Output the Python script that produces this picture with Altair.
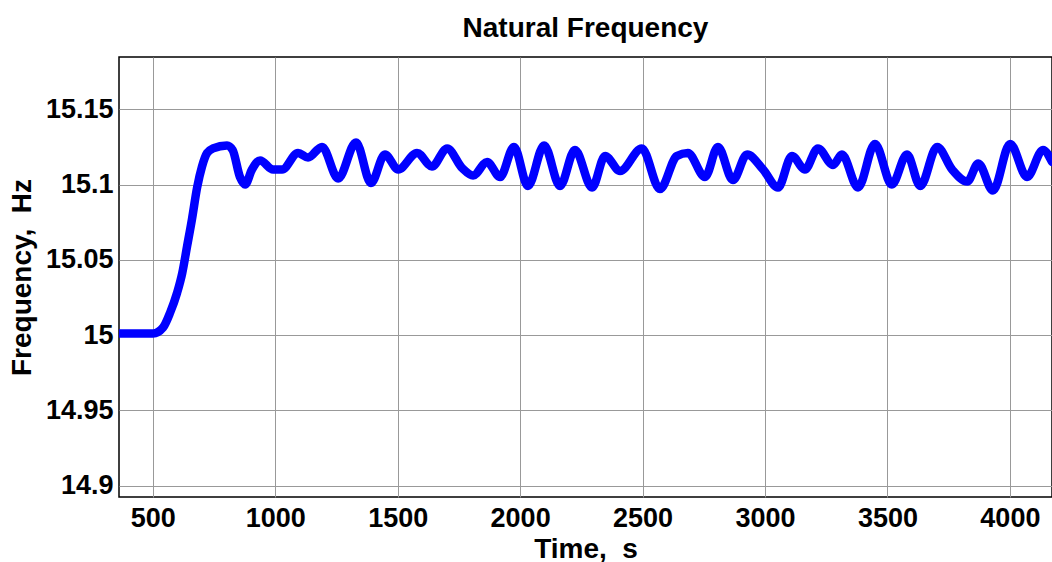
import altair as alt
import pandas as pd

time_s = [362, 501, 542, 571, 599, 620, 640, 660, 681, 701, 722, 746, 803, 826,
          856, 877, 905, 938, 991, 1028, 1093, 1134, 1191, 1257, 1330, 1391,
          1448, 1502, 1579, 1640, 1702, 1763, 1808, 1865, 1918, 1975, 2032,
          2098, 2163, 2224, 2294, 2347, 2408, 2497, 2571, 2640, 2685, 2755,
          2808, 2869, 2927, 2992, 3053, 3110, 3163, 3216, 3278, 3314, 3380,
          3449, 3518, 3580, 3634, 3703, 3764, 3826, 3871, 3931, 4001, 4070,
          4135, 4172]
freq_hz = [15.001, 15.001, 15.005, 15.015, 15.028, 15.041, 15.059, 15.077,
           15.098, 15.112, 15.121, 15.124, 15.126, 15.123, 15.105, 15.100,
           15.110, 15.116, 15.110, 15.110, 15.121, 15.118, 15.125, 15.104,
           15.128, 15.101, 15.120, 15.110, 15.121, 15.112, 15.124, 15.111,
           15.106, 15.115, 15.105, 15.125, 15.099, 15.126, 15.099, 15.123,
           15.098, 15.119, 15.109, 15.124, 15.097, 15.119, 15.121, 15.105,
           15.125, 15.103, 15.120, 15.110, 15.098, 15.119, 15.110, 15.124,
           15.113, 15.120, 15.098, 15.127, 15.100, 15.120, 15.099, 15.125,
           15.110, 15.102, 15.114, 15.096, 15.127, 15.105, 15.123, 15.115]

x_ticks = [500, 1000, 1500, 2000, 2500, 3000, 3500, 4000]
y_ticks = [14.9, 14.95, 15.0, 15.05, 15.1, 15.15]

df = pd.DataFrame({"t": time_s, "f": freq_hz})

FONT = "Liberation Sans"

line = alt.Chart(df).mark_line(
    color="#0000ff", strokeWidth=8.5, interpolate="monotone", clip=True,
    strokeCap="round", strokeJoin="round"
).encode(
    x=alt.X("t:Q",
            scale=alt.Scale(domain=[362, 4172], nice=False, zero=False),
            axis=alt.Axis(values=x_ticks, format="d", title="Time,\u00a0 s",
                          labelPadding=8, titleY=60, titleBaseline="alphabetic")),
    y=alt.Y("f:Q",
            scale=alt.Scale(domain=[14.8925, 15.1847], nice=False, zero=False),
            axis=alt.Axis(values=y_ticks, format="~g", title="Frequency,\u00a0 Hz",
                          labelPadding=6, titleX=-89, titleBaseline="alphabetic")),
)

chart = line.properties(
    width=933, height=440,
    title=alt.TitleParams("Natural Frequency", font=FONT, fontSize=28,
                          fontWeight="bold", color="black", anchor="middle",
                          baseline="alphabetic", offset=20, dy=28),
    autosize=alt.AutoSizeParams(type="none"),
    padding={"left": 119, "top": 57, "right": 0, "bottom": 65},
).configure_view(
    stroke="black", strokeWidth=1.5
).configure_axis(
    labelFont=FONT, labelFontSize=27, labelFontWeight="bold", labelColor="black",
    titleFont=FONT, titleFontSize=28, titleFontWeight="bold", titleColor="black",
    ticks=False, domain=False, grid=True, gridColor="#999999", gridWidth=1,
    gridOpacity=1,
)

chart.save("out.html", embed_options={"renderer": "svg", "actions": False})
